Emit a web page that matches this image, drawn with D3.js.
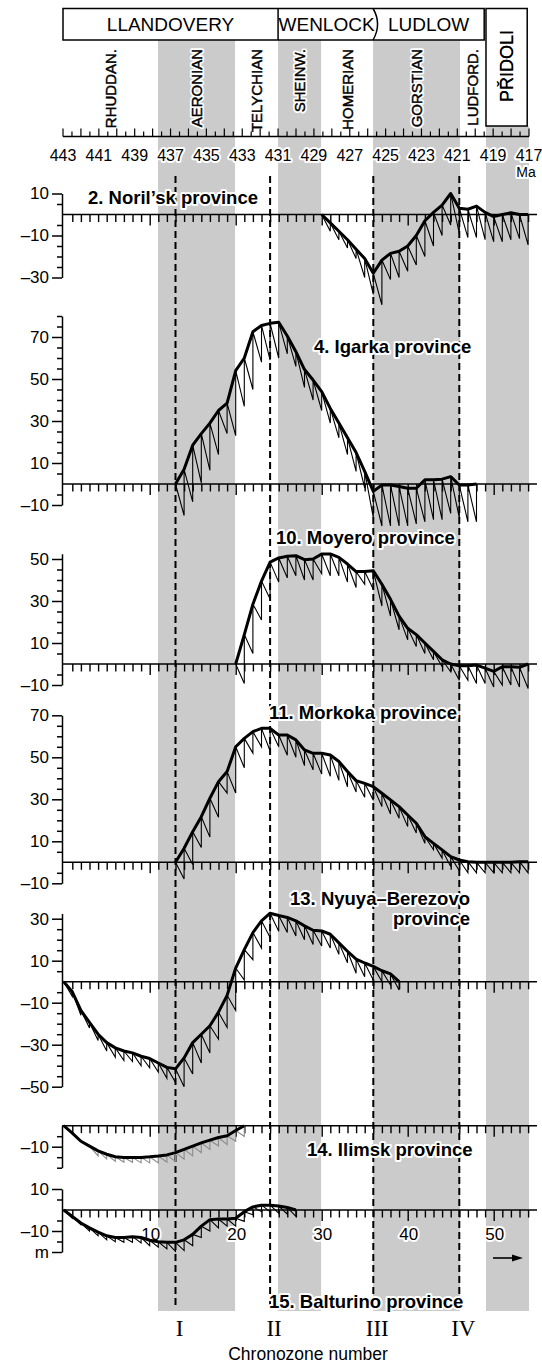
<!DOCTYPE html>
<html>
<head>
<meta charset="utf-8">
<script src="https://cdn.jsdelivr.net/npm/d3@7"></script>
<style>
  body { margin: 0; background: #fff; }
  svg text { font-family: "Liberation Sans", Arial, sans-serif; fill: #000; }
  .halo { paint-order: stroke; stroke: #fff; stroke-width: 4px; stroke-linejoin: round; }
</style>
</head>
<body>
<svg width="542" height="1365"></svg>
<script>
// ---- time scale (Ma) ----
const stageNames = ["RHUDDAN.", "AERONIAN", "TELYCHIAN", "SHEINW.", "HOMERIAN", "GORSTIAN", "LUDFORD.", "PŘIDOLI"];
const stageBounds = [443, 437.7, 433.4, 431.0, 428.6, 425.7, 420.85, 419.4, 417];
const seriesNames = ["LLANDOVERY", "WENLOCK", "LUDLOW"];
const seriesBounds = [443, 431.0, 425.7, 419.5];
const maLabels = [443, 441, 439, 437, 435, 433, 431, 429, 427, 425, 423, 421, 419, 417];

// ---- chronozone axis ----
const chronoLabels = [10, 20, 30, 40, 50];
const chronoMarkers = ["I", "II", "III", "IV"];
const markerZones = [13, 24, 36, 46];

// ---- provinces: water depth (m) per chronozone, and bottom of each hatch tooth ----
const norilskStart = 30;
const norilskDepth = [0, -4, -8, -12, -16.5, -21, -28, -21.7, -18.5, -17.5, -15, -10, -3, 1, 4.5, 10, 3, 2.5, 4, 1, -1, 0, 0.8, 0, 0];
const norilskTeeth = [null, -8, -12, -16, -21, -30, -38, -43, -31, -30, -27, -24, -20, -15, -10, -5, -9, -11, -11, -12, -13, -13, -12, -11.5, -14.5];
const norilskTicks = [10, -10, -30];

const igarkaStart = 13;
const igarkaDepth = [0, 7, 18.5, 24, 29, 35, 38.5, 54, 60, 72.5, 75.5, 76.5, 77, 70.5, 63, 54.5, 49.5, 44, 36, 29, 22, 15, 6, -3.5, -0.5, -0.5, -1.2, -2, -2, 2, 2, 2.3, 3.5, -0.5, -0.5, 0];
const igarkaTeeth = [null, -15, -8.5, 0.5, 6.5, 14, 24, 23, 37, 45, 58, 59, 60, 62, 56, 46, 40, 35, 29, 22, 14, 6, -2, -16, -20, -20, -20, -20, -19, -18, -17, -17, -14, -16, -18, -18];
const igarkaTicks = [70, 50, 30, 10, -10];

const moyeroStart = 20;
const moyeroDepth = [0, 14, 28.5, 39.5, 48.5, 50.5, 51.3, 51.6, 49.7, 50, 52.4, 52.4, 50.8, 47.6, 44, 44, 44.4, 38, 30.8, 22.8, 17, 14, 10, 6, 2, 0, -0.8, -0.8, -0.5, -2, -3.5, -1.3, -1.3, -1.6, 0];
const moyeroTeeth = [null, -9.3, 5, 21, 31, 39, 41, 42, 40, 40, 43, 42, 42, 39, 36.4, 38, 35.6, 27.6, 22.8, 16.3, 11.5, 8.3, 5, 2, -1.3, -3.7, -7.7, -7.7, -9.3, -9.3, -11, -10, -10, -11, -11.7];
const moyeroTicks = [50, 30, 10, -10];

const morkokaStart = 13;
const morkokaDepth = [0, 6.7, 14.6, 21.7, 30.5, 38.4, 43.2, 55, 59, 62.2, 63.8, 63.8, 60.6, 60.6, 58.3, 53.5, 51.9, 51.9, 51.1, 48, 43.2, 38.9, 37.6, 36, 32.9, 29.7, 26.5, 22.5, 18.6, 12.2, 9, 5.9, 2.7, 1.1, 0.3, 0, 0, 0, 0, 0, 0.3, 0.3];
const morkokaTeeth = [null, -8, -1, 7, 12, 21.5, 33, 33, 45, 52, 55, 53, 55, 51, 50, 46, 44, 42, 41, 39, 36, 33.5, 31, 29.5, 26.5, 23, 21, 17, 14, 9, 6, 2, -2, -4, -5, -5, -5, -5, -5, -5, -5, -5];
const morkokaTicks = [70, 50, 30, 10, -10];

const nyuyaStart = 0;
const nyuyaDepth = [0, -4.8, -13.7, -19.4, -25, -29, -31.5, -33, -33.9, -35.5, -36.6, -38.7, -40.8, -41.5, -36.3, -29, -25, -21, -14.5, -6.5, 6.5, 15.3, 23.4, 29, 32.6, 31.5, 30.6, 29, 26.6, 24.5, 24.2, 22.6, 18.5, 14.5, 10.8, 8.9, 7.3, 5.2, 3.7, 0];
const nyuyaTeeth = [null, -7, -16, -22, -28, -33, -36, -37.5, -38, -40, -41, -43, -46, -48, -50, -44, -38.7, -34, -27.4, -21.8, -13.7, 0.8, 10.5, 16, 21, 24, 23.4, 21.8, 20, 17.7, 17, 16, 13, 9, 4, 2.4, 0.8, 0, -1.6, -4];
const nyuyaTicks = [30, 10, -10, -30, -50];

const ilimskStart = 0;
const ilimskDepth = [0, -3.5, -7.4, -9.7, -12, -13.6, -14.8, -15.1, -15.1, -15.1, -14.8, -14.4, -13.9, -12.8, -11.3, -9.7, -8.2, -6.9, -5.6, -4.8, -2.3, 0];
const ilimskTeeth = [null, null, null, null, -14.4, -15.9, -17, -17.4, -17.4, -17.7, -17.7, -17.7, -17.4, -17.1, -15.9, -14.4, -12.8, -11.3, -9.7, -9, -7.4, -5.1];
const ilimskTicks = [-10];

const balturinoStart = 0;
const balturinoDepth = [0, -3.1, -6.2, -8.5, -10.5, -12.3, -13.1, -13.1, -12.7, -13.1, -14.4, -15.1, -15.4, -15.4, -14.2, -11.6, -7.7, -4.6, -4.3, -4.3, -3.9, -0.8, 1.5, 2.3, 2.3, 1.9, 1.2, 0];
const balturinoTeeth = [null, -3.9, -7, -10, -12.3, -14.2, -15.1, -15.4, -15.4, -15.7, -17, -17.7, -18.5, -19.7, -19.3, -17, -13.1, -10, -8.5, -7.7, -7.7, -5.4, -2.3, -0.8, -0.8, -1.5, -2, -3];
const balturinoTicks = [10, -10, -20];

// ---- layout ----
const pxPerM = 2.1;
const panels = [
  { label: ["2. Noril’sk province"], lx: 88, ly: 204, anchor: "start", start: norilskStart, depth: norilskDepth, teeth: norilskTeeth, ticks: norilskTicks, zero: 214.5, top: 10, bottom: -30 },
  { label: ["4. Igarka province"], lx: 314, ly: 353, anchor: "start", start: igarkaStart, depth: igarkaDepth, teeth: igarkaTeeth, ticks: igarkaTicks, zero: 484, top: 80, bottom: -10 },
  { label: ["10. Moyero province"], lx: 276, ly: 544, anchor: "start", start: moyeroStart, depth: moyeroDepth, teeth: moyeroTeeth, ticks: moyeroTicks, zero: 664, top: 52.5, bottom: -10 },
  { label: ["11. Morkoka province"], lx: 269, ly: 719, anchor: "start", start: morkokaStart, depth: morkokaDepth, teeth: morkokaTeeth, ticks: morkokaTicks, zero: 862.3, top: 70, bottom: -10 },
  { label: ["13. Nyuya–Berezovo", "province"], lx: 470, ly: 905, anchor: "end", start: nyuyaStart, depth: nyuyaDepth, teeth: nyuyaTeeth, ticks: nyuyaTicks, zero: 981.7, top: 32.5, bottom: -50 },
  { label: ["14. Ilimsk province"], lx: 307, ly: 1156, anchor: "start", start: ilimskStart, depth: ilimskDepth, teeth: ilimskTeeth, ticks: ilimskTicks, zero: 1125.7, top: 0, bottom: -20, toothColor: "#8a8a8a" },
  { label: ["15. Balturino province"], lx: 269, ly: 1308, anchor: "start", start: balturinoStart, depth: balturinoDepth, teeth: balturinoTeeth, ticks: balturinoTicks, zero: 1210, top: 10, bottom: -20, unit: true }
];

const svg = d3.select("svg");
const ma = d3.scaleLinear().domain([443, 417]).range([63, 529]);
const x = d3.scaleLinear().domain([0, 54]).range([63.7, 528.1]);

// gray stage bands
const stages = stageNames.map((name, i) => ({ name, i, from: stageBounds[i], to: stageBounds[i + 1] }));
svg.append("g").selectAll("rect")
  .data(stages.filter(d => d.i % 2 === 1))
  .join("rect")
  .attr("x", d => ma(d.from))
  .attr("width", d => ma(d.to) - ma(d.from))
  .attr("y", d => d.i === 7 ? 126 : 40)
  .attr("height", d => 1311 - (d.i === 7 ? 126 : 40))
  .attr("fill", "#cbcbcb");

// series header
const head = svg.append("g");
head.append("rect").attr("x", ma(443)).attr("y", 8.5).attr("width", ma(seriesBounds[3]) - ma(443)).attr("height", 31.5)
  .attr("fill", "#fff").attr("stroke", "#000").attr("stroke-width", 1.5);
head.append("line").attr("x1", ma(seriesBounds[1])).attr("x2", ma(seriesBounds[1])).attr("y1", 8.5).attr("y2", 40)
  .attr("stroke", "#000").attr("stroke-width", 1.5);
const bx = ma(seriesBounds[2]);
head.append("path").attr("d", `M${bx},8.5 Q${bx + 9},24 ${bx},40`).attr("fill", "none").attr("stroke", "#000").attr("stroke-width", 1.5);
head.selectAll("text.series").data(seriesNames).join("text")
  .attr("x", (d, i) => (ma(seriesBounds[i]) + ma(seriesBounds[i + 1])) / 2 + (i === 1 ? 1 : 0))
  .attr("y", 31).attr("text-anchor", "middle").attr("font-size", 19).text(d => d);
// Pridoli box
head.append("rect").attr("x", ma(419.4)).attr("y", 8.5).attr("width", ma(417.1) - ma(419.4)).attr("height", 117.5)
  .attr("fill", "#fff").attr("stroke", "#000").attr("stroke-width", 1.5);

// stage names (white halo layer, then slightly emboldened text)
const stageT = d => {
  const cx = (ma(d.from) + ma(d.to)) / 2;
  return d.i === 7 ? `translate(${cx},66) rotate(-90)` : `translate(${cx},49) rotate(-90)`;
};
["halo", "ink"].forEach(layer => {
  svg.append("g").selectAll("text").data(stages).join("text")
    .attr("transform", stageT)
    .attr("text-anchor", d => d.i === 7 ? "middle" : "end")
    .attr("dominant-baseline", "central")
    .attr("font-size", d => d.i === 7 ? 18 : 15)
    .attr("stroke", d => d.i === 7 ? "none" : (layer === "halo" ? "#fff" : "#000"))
    .attr("stroke-width", layer === "halo" ? 4 : 0.45)
    .attr("stroke-linejoin", "round")
    .text(d => d.name);
});

// Ma axis
const maAxisY = 136.5;
const maAx = svg.append("g");
maAx.append("line").attr("x1", ma(443)).attr("x2", ma(417)).attr("y1", maAxisY).attr("y2", maAxisY).attr("stroke", "#000").attr("stroke-width", 1.5);
maAx.selectAll("line.t").data(d3.range(0, 53)).join("line")
  .attr("x1", d => ma(443 - d / 2)).attr("x2", d => ma(443 - d / 2))
  .attr("y1", maAxisY).attr("y2", d => maAxisY - (d % 2 === 0 ? 8 : 5))
  .attr("stroke", "#000").attr("stroke-width", 1.2);
maAx.selectAll("text").data(maLabels).join("text").attr("class", "halo")
  .attr("x", d => ma(d)).attr("y", 161).attr("text-anchor", "middle").attr("font-size", 16).text(d => d);
svg.append("text").attr("class", "halo").attr("x", 526).attr("y", 177).attr("text-anchor", "middle").attr("font-size", 14).text("Ma");

// dashed chronozone markers
svg.append("g").selectAll("line").data(markerZones).join("line")
  .attr("x1", d => x(d)).attr("x2", d => x(d)).attr("y1", 176).attr("y2", 1306)
  .attr("stroke", "#000").attr("stroke-width", 2).attr("stroke-dasharray", "7,4");

// panels
panels.forEach(p => {
  const y = d3.scaleLinear().domain([p.bottom, p.top]).range([p.zero - p.bottom * pxPerM, p.zero - p.top * pxPerM]);
  const g = svg.append("g");

  // vertical axis
  const minor = d3.range(Math.ceil(p.bottom / 5) * 5, p.top + 0.01, 5).filter(v => v !== 0 && !p.ticks.includes(v));
  g.append("g").attr("transform", "translate(62,0)")
    .call(d3.axisLeft(y).tickValues(minor).tickSize(5).tickSizeOuter(0).tickFormat(""))
    .call(a => a.selectAll("line").attr("stroke-width", 1.5))
    .call(a => a.select(".domain").attr("stroke-width", 1.5));
  g.append("g").attr("transform", "translate(62,0)")
    .call(d3.axisLeft(y).tickValues(p.ticks).tickSize(10).tickPadding(3).tickSizeOuter(0)
      .tickFormat(v => (p.unit && v === -20) ? "m" : (v < 0 ? "–" + Math.abs(v) : v)))
    .call(a => a.select(".domain").remove())
    .call(a => a.selectAll("line").attr("stroke-width", 1.5))
    .call(a => a.selectAll("text").attr("font-size", 17).attr("font-family", "Liberation Sans, Arial, sans-serif"));

  // zero line with chronozone ticks
  g.append("line").attr("x1", 62).attr("x2", 537).attr("y1", p.zero).attr("y2", p.zero).attr("stroke", "#000").attr("stroke-width", 1.6);
  g.append("g").attr("transform", `translate(0,${p.zero})`)
    .call(d3.axisBottom(x).tickValues(d3.range(1, 55)).tickSizeInner(0).tickSizeOuter(0).tickFormat(""))
    .call(a => a.select(".domain").remove())
    .call(a => a.selectAll(".tick line").attr("y2", d => d % 10 === 0 ? 11 : 7.5).attr("stroke-width", 1.4));
  if (p.unit) {
    g.selectAll("text.cz").data(chronoLabels).join("text").attr("class", "halo")
      .attr("x", d => x(d) + 1).attr("y", p.zero + 30).attr("text-anchor", "middle").attr("font-size", 17).text(d => d);
  }

  const pts = p.depth.map((v, i) => ({ n: p.start + i, v, b: p.teeth[i] }));

  // hatch teeth
  g.append("path")
    .attr("d", pts.slice(1).filter(d => d.b !== null).map(d => {
      const prev = pts[d.n - p.start - 1];
      return `M${x(prev.n)},${y(prev.v)}L${x(d.n)},${y(d.b)}L${x(d.n)},${y(d.v)}`;
    }).join(""))
    .attr("fill", "none").attr("stroke", p.toothColor || "#000").attr("stroke-width", 1.1).attr("stroke-linejoin", "miter");

  // depth curve
  g.append("path").datum(pts)
    .attr("d", d3.line().x(d => x(d.n)).y(d => y(d.v)))
    .attr("fill", "none").attr("stroke", "#000").attr("stroke-width", 3).attr("stroke-linejoin", "round");

  // province label
  g.selectAll("text.lab").data(p.label).join("text").attr("class", "halo")
    .attr("x", p.lx).attr("y", (d, i) => p.ly + i * 20)
    .attr("text-anchor", p.anchor).attr("font-size", 18.5).attr("font-weight", "bold").text(d => d);
});

// arrow
svg.append("line").attr("x1", 493).attr("x2", 514).attr("y1", 1258).attr("y2", 1258).attr("stroke", "#000").attr("stroke-width", 1.6);
svg.append("path").attr("d", "M523,1258 L512,1254.5 L512,1261.5 Z").attr("fill", "#000");

// chronozone roman numerals and title
svg.append("g").selectAll("text").data(chronoMarkers).join("text")
  .attr("x", (d, i) => x(markerZones[i]) + 4).attr("y", 1336).attr("text-anchor", "middle")
  .style("font-family", "\"Liberation Serif\", \"Times New Roman\", serif")
  .attr("font-size", 23).text(d => d);
svg.append("text").attr("x", 308).attr("y", 1360).attr("text-anchor", "middle").attr("font-size", 17.5).text("Chronozone number");
</script>
</body>
</html>
